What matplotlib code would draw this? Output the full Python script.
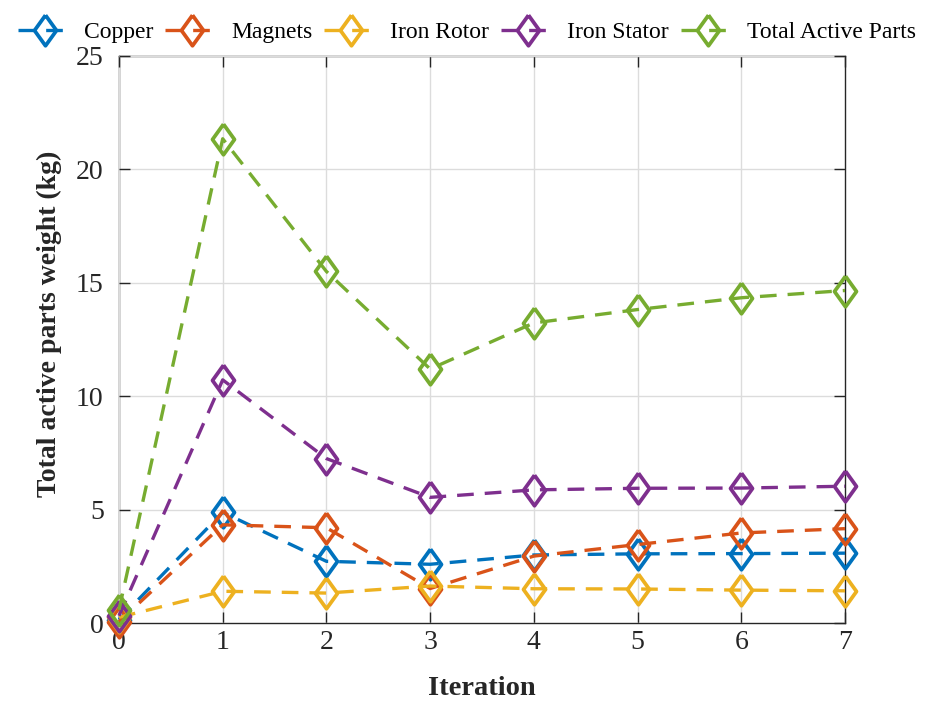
import matplotlib.pyplot as plt
import numpy as np

plt.rcParams['font.family'] = ['Liberation Serif', 'DejaVu Serif']

iteration = [0, 1, 2, 3, 4, 5, 6, 7]
copper = [0.15, 4.88, 2.72, 2.59, 3.0, 3.05, 3.06, 3.08]
magnets = [0.05, 4.33, 4.2, 1.52, 2.95, 3.46, 3.97, 4.16]
iron_rotor = [0.25, 1.4, 1.32, 1.63, 1.51, 1.5, 1.45, 1.42]
iron_stator = [0.32, 10.72, 7.25, 5.54, 5.87, 5.94, 5.95, 6.03]
total = [0.58, 21.35, 15.5, 11.2, 13.23, 13.82, 14.34, 14.66]

labels = ['Copper', 'Magnets', 'Iron Rotor', 'Iron Stator', 'Total Active Parts']
colors = ['#0072BD', '#D95319', '#EDB120', '#7E2F8E', '#77AC30']

# tall diamond like the MATLAB one
diamond = [(0, 1), (0.72, 0), (0, -1), (-0.72, 0), (0, 1)]

fig = plt.figure(figsize=(9.26, 7.05), dpi=100)
ax = fig.add_axes([0.1285, 0.1163, 0.784, 0.8043])

for ys, lab, c in zip([copper, magnets, iron_rotor, iron_stator, total], labels, colors):
    ax.plot(iteration, ys, linestyle=(0, (5, 3.3)), color=c, lw=2.4,
            marker=diamond, markersize=22, markerfacecolor='none',
            markeredgecolor=c, markeredgewidth=2.7, label=lab, clip_on=False)

ax.set_xlim(0, 7)
ax.set_ylim(0, 25)
ax.set_xticks(range(8))
ax.set_yticks([0, 5, 10, 15, 20, 25])
ax.grid(True, color='#dcdcdc', lw=1)
ax.set_axisbelow(True)
for s in ax.spines.values():
    s.set_color('#262626')
    s.set_linewidth(1)
    s.set_zorder(0.5)
ax.tick_params(direction='in', length=8, width=1, colors='#262626',
               labelsize=20, top=True, right=True)
ax.tick_params(axis='x', pad=5)
ax.tick_params(axis='y', pad=11)
ax.set_xlabel('Iteration', fontsize=20.5, fontweight='bold', color='#262626')
ax.xaxis.set_label_coords(0.5, -0.093)
ax.set_ylabel('Total active parts weight (kg)', fontsize=20, fontweight='bold',
              color='#262626')
ax.yaxis.set_label_coords(-0.078, 0.527)

leg = ax.legend(loc='lower center', bbox_to_anchor=(0.479, 1.0), ncol=5, frameon=False,
                fontsize=17, handlelength=2.3, handletextpad=0.5, columnspacing=0.5,
                borderaxespad=0.15)

fig.savefig('out.png', dpi=100)
